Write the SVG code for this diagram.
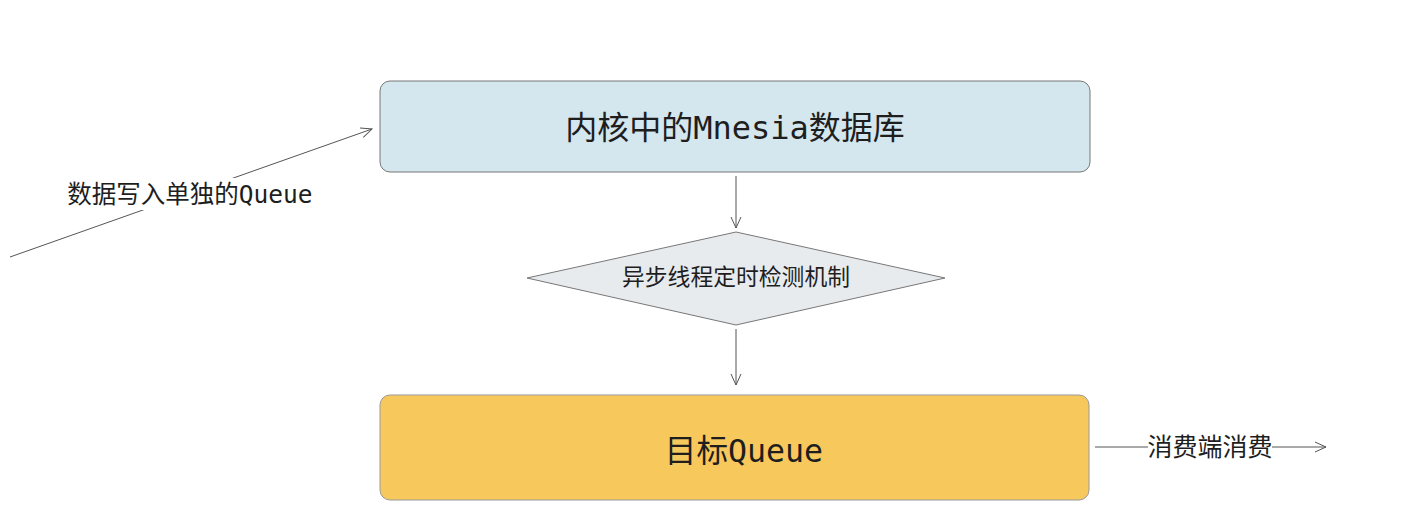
<svg xmlns="http://www.w3.org/2000/svg" width="1408" height="532" viewBox="0 0 1408 532">
<style>
.t{font-family:"DejaVu Sans Mono","Noto Sans CJK SC",monospace;fill:#1e1e1e;text-anchor:middle;dominant-baseline:central}
.c{stroke:#555;stroke-width:1;fill:none}
.lb{font-family:"DejaVu Sans Mono","Noto Sans CJK SC",monospace;fill:#1e1e1e;text-anchor:middle;dominant-baseline:central}
</style>
<defs>
<marker id="ah" viewBox="0 0 12 12" refX="11" refY="6" markerWidth="12" markerHeight="12" markerUnits="userSpaceOnUse" orient="auto">
<path d="M0,1 L11,6 L0,11" fill="none" stroke="#555" stroke-width="1"/>
</marker>
</defs>
<rect width="1408" height="532" fill="#fff"/>
<g id="connectors">
<line class="c" x1="10" y1="257" x2="372" y2="129" marker-end="url(#ah)"/>
<line class="c" x1="736" y1="176" x2="736" y2="228" marker-end="url(#ah)"/>
<line class="c" x1="736" y1="329" x2="736" y2="385" marker-end="url(#ah)"/>
<line class="c" x1="1095" y1="447" x2="1326" y2="447" marker-end="url(#ah)"/>
<rect x="64" y="178" width="254" height="32" fill="#fff"/>
<text class="lb" x="190" y="194" font-size="24.5">数据写入单独的Queue</text>
<rect x="1148" y="433" width="124" height="28" fill="#fff"/>
<text class="lb" x="1210" y="447" font-size="25">消费端消费</text>
</g>
<g id="node-mnesia">
<rect x="380" y="81" width="710" height="91" rx="10" fill="#d4e6ee" stroke="#777" stroke-width="1"/>
<text class="t" x="735" y="128" font-size="32">内核中的Mnesia数据库</text>
</g>
<g id="node-check">
<path d="M736,232 L945,278 L736,325 L527,278 Z" fill="#e8ebee" stroke="#777" stroke-width="1" stroke-linejoin="round"/>
<text class="t" x="736" y="277" font-size="22.8">异步线程定时检测机制</text>
</g>
<g id="node-queue">
<rect x="380" y="395" width="709" height="105" rx="10" fill="#f7c85c" stroke="#999" stroke-width="1"/>
<text class="t" x="744" y="451" font-size="31.6">目标Queue</text>
</g>
</svg>
